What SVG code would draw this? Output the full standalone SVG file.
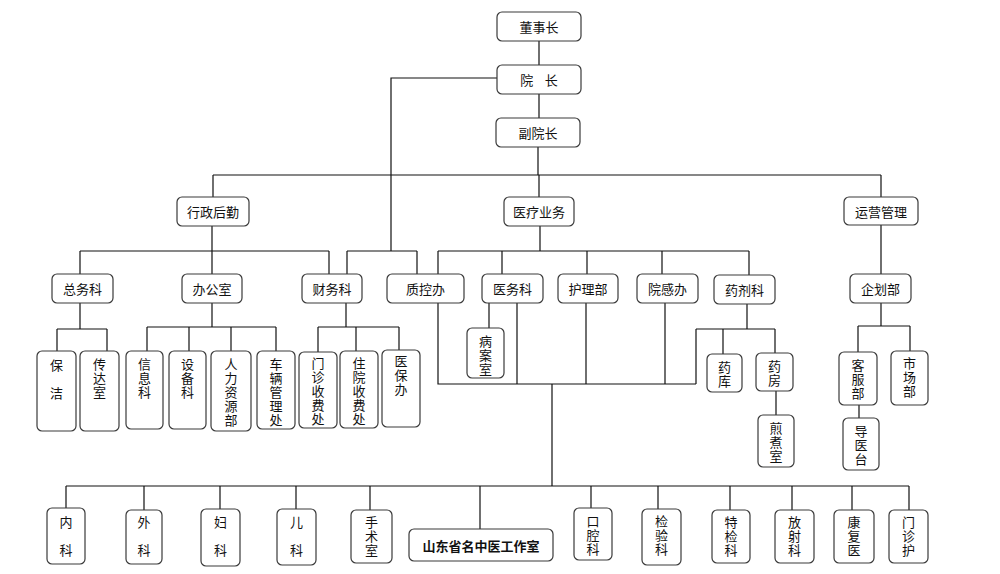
<svg xmlns="http://www.w3.org/2000/svg" width="1000" height="574" viewBox="0 0 1000 574">
<style>
.b{fill:#fff;stroke:#3a3a3a;stroke-width:1.2}
.t{font-family:"Noto Sans CJK SC","Liberation Sans",sans-serif;font-size:13px;fill:#111;text-anchor:middle;dominant-baseline:central}
.v{font-family:"Noto Sans CJK SC","Liberation Sans",sans-serif;font-size:13px;fill:#111;writing-mode:vertical-rl;text-anchor:start;letter-spacing:1px}
.w{letter-spacing:15px}
.bold{font-weight:bold;font-size:13px}
.c{fill:none;stroke:#111;stroke-width:1.2}
</style>
<rect width="1000" height="574" fill="#fff"/>
<g id="connectors" class="c">
<path d="M539 41V65M539 94V118M538 147V175M213 175H881M213 175V197M539 175V197M881 175V197"/>
<path d="M497 78H391V251M347 251H417M347 251V274M417 251V274"/>
<path d="M212 226V251M80 251H329M80 251V274M212 251V274M329 251V274"/>
<path d="M540 226V251M438 251H749M438 251V274M502 251V274M587 251V274M662 251V274M749 251V275"/>
<path d="M881 225V274M881 303V326M858 326H910M858 326V352M910 326V351M859 405V418"/>
<path d="M80 303V329M57 329H107M57 329V351M107 329V351"/>
<path d="M212 303V327M147 327H276M147 327V351M189 327V351M231 327V351M276 327V351"/>
<path d="M346 303V327M318 327H399M318 327V352M356 327V351M399 327V350"/>
<path d="M438 303V384H696M489 303V328M517 303V384M586 303V384M665 303V384M747 304V329M696 329H775M696 329V384M723 329V354M775 329V353M776 391V415"/>
<path d="M552 384V486M66 486H909M66 486V508M144 486V510M220 486V509M296 486V509M370 486V510M480 486V529M591 486V508M658 486V509M730 486V510M792 486V510M852 486V510M909 486V510"/>
</g>
<g id="n_dsz"><rect class="b" x="497" y="12" width="84" height="29" rx="5"/><text class="t" x="539" y="26.5">董事长</text></g>
<g id="n_yz"><rect class="b" x="497" y="65" width="84" height="29" rx="5"/><text class="t" x="539" y="79.5" xml:space="preserve">院    长</text></g>
<g id="n_fyz"><rect class="b" x="496" y="118" width="84" height="29" rx="5"/><text class="t" x="538" y="132.5">副院长</text></g>
<g id="n_xzhq"><rect class="b" x="177" y="197" width="72" height="29" rx="5"/><text class="t" x="213" y="211.5">行政后勤</text></g>
<g id="n_ylyw"><rect class="b" x="504" y="197" width="70" height="29" rx="5"/><text class="t" x="539" y="211.5">医疗业务</text></g>
<g id="n_yygl"><rect class="b" x="844" y="197" width="74" height="28" rx="5"/><text class="t" x="881" y="211">运营管理</text></g>
<g id="n_zwk"><rect class="b" x="52" y="274" width="61" height="29" rx="5"/><text class="t" x="82.5" y="288.5">总务科</text></g>
<g id="n_bgs"><rect class="b" x="182" y="274" width="60" height="29" rx="5"/><text class="t" x="212" y="288.5">办公室</text></g>
<g id="n_cwk"><rect class="b" x="302" y="274" width="60" height="29" rx="5"/><text class="t" x="332" y="288.5">财务科</text></g>
<g id="n_zkb"><rect class="b" x="387" y="274" width="77" height="29" rx="5"/><text class="t" x="425.5" y="288.5">质控办</text></g>
<g id="n_ywk"><rect class="b" x="482" y="274" width="61" height="29" rx="5"/><text class="t" x="512.5" y="288.5">医务科</text></g>
<g id="n_hlb"><rect class="b" x="558" y="274" width="60" height="29" rx="5"/><text class="t" x="588" y="288.5">护理部</text></g>
<g id="n_ygb"><rect class="b" x="637" y="274" width="61" height="29" rx="5"/><text class="t" x="667.5" y="288.5">院感办</text></g>
<g id="n_yjk"><rect class="b" x="714" y="275" width="61" height="29" rx="5"/><text class="t" x="744.5" y="289.5">药剂科</text></g>
<g id="n_qhb"><rect class="b" x="850" y="274" width="61" height="29" rx="5"/><text class="t" x="880.5" y="288.5">企划部</text></g>
<g id="n_bj"><rect class="b" x="37" y="351" width="39" height="80" rx="5"/><text class="v w" x="56.5" y="358.5">保洁</text></g>
<g id="n_cds"><rect class="b" x="80" y="351" width="39" height="80" rx="5"/><text class="v" x="99.5" y="357.5">传达室</text></g>
<g id="n_xxk"><rect class="b" x="126" y="351" width="37" height="78" rx="5"/><text class="v" x="144.5" y="357.5">信息科</text></g>
<g id="n_sbk"><rect class="b" x="169" y="351" width="37" height="78" rx="5"/><text class="v" x="187.5" y="357.5">设备科</text></g>
<g id="n_rlzyb"><rect class="b" x="211" y="351" width="40" height="80" rx="5"/><text class="v" x="231" y="357.5">人力资源部</text></g>
<g id="n_clglc"><rect class="b" x="257" y="351" width="38" height="78" rx="5"/><text class="v" x="276" y="357.5">车辆管理处</text></g>
<g id="n_mzsfc"><rect class="b" x="299" y="352" width="38" height="76" rx="5"/><text class="v" x="318" y="356.5">门诊收费处</text></g>
<g id="n_zysfc"><rect class="b" x="340" y="351" width="38" height="77" rx="5"/><text class="v" x="359" y="356.5">住院收费处</text></g>
<g id="n_ybb"><rect class="b" x="382" y="350" width="38" height="77" rx="5"/><text class="v" x="401" y="354.5">医保办</text></g>
<g id="n_bas"><rect class="b" x="467" y="328" width="37" height="50" rx="5"/><text class="v" x="485.5" y="334.5">病案室</text></g>
<g id="n_yk"><rect class="b" x="707" y="354" width="35" height="38" rx="5"/><text class="v" x="724.5" y="360.5">药库</text></g>
<g id="n_yf"><rect class="b" x="756" y="353" width="37" height="38" rx="5"/><text class="v" x="774.5" y="359.5">药房</text></g>
<g id="n_jzs"><rect class="b" x="758" y="415" width="36" height="52" rx="5"/><text class="v" x="776" y="421.5">煎煮室</text></g>
<g id="n_kfb"><rect class="b" x="839" y="352" width="38" height="53" rx="5"/><text class="v" x="858" y="358.5">客服部</text></g>
<g id="n_scb"><rect class="b" x="891" y="351" width="37" height="54" rx="5"/><text class="v" x="909.5" y="356.5">市场部</text></g>
<g id="n_dyt"><rect class="b" x="843" y="418" width="36" height="52" rx="5"/><text class="v" x="861" y="424.5">导医台</text></g>
<g id="n_nk"><rect class="b" x="47" y="508" width="38" height="56" rx="5"/><text class="v w" x="66" y="515.5">内科</text></g>
<g id="n_wk"><rect class="b" x="126" y="510" width="36" height="54" rx="5"/><text class="v w" x="144" y="516">外科</text></g>
<g id="n_fk"><rect class="b" x="201" y="509" width="39" height="57" rx="5"/><text class="v w" x="220.5" y="515.5">妇科</text></g>
<g id="n_ek"><rect class="b" x="277" y="509" width="39" height="56" rx="5"/><text class="v w" x="296.5" y="515.5">儿科</text></g>
<g id="n_sss"><rect class="b" x="351" y="510" width="41" height="53" rx="5"/><text class="v" x="371.5" y="515.5">手术室</text></g>
<g id="n_mzy"><rect class="b" x="409" y="529" width="144" height="32" rx="5"/><text class="t bold" x="481" y="545">山东省名中医工作室</text></g>
<g id="n_kqk"><rect class="b" x="574" y="508" width="38" height="52" rx="5"/><text class="v" x="593" y="514.5">口腔科</text></g>
<g id="n_jyk"><rect class="b" x="642" y="509" width="39" height="56" rx="5"/><text class="v" x="661.5" y="514.5">检验科</text></g>
<g id="n_tjk"><rect class="b" x="712" y="510" width="38" height="53" rx="5"/><text class="v" x="731" y="515.5">特检科</text></g>
<g id="n_fsk"><rect class="b" x="775" y="510" width="39" height="53" rx="5"/><text class="v" x="794.5" y="515.5">放射科</text></g>
<g id="n_kfy"><rect class="b" x="834" y="510" width="40" height="53" rx="5"/><text class="v" x="854" y="515.5">康复医</text></g>
<g id="n_mzh"><rect class="b" x="889" y="510" width="39" height="53" rx="5"/><text class="v" x="908.5" y="515.5">门诊护</text></g>
</svg>
